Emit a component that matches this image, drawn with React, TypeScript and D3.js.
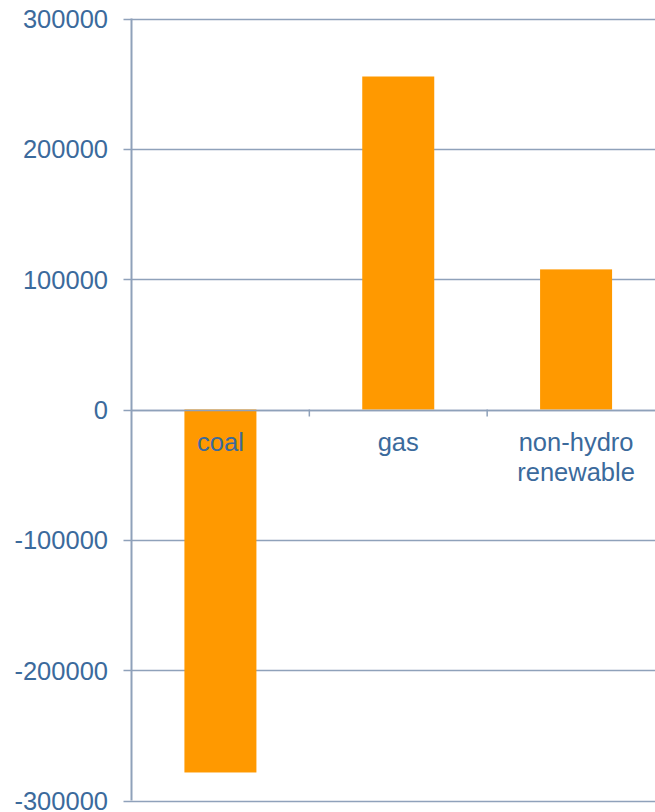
import React, { useRef, useEffect } from 'react';
import * as d3 from 'd3';

const categories = ['coal', 'gas', 'non-hydro renewable'];
const categoryLines = [['coal'], ['gas'], ['non-hydro', 'renewable']];
const values = [-278500, 255500, 107500];
const yTicks = [-300000, -200000, -100000, 0, 100000, 200000, 300000];

const App = () => {
  const svgRef = useRef<SVGSVGElement>(null);

  useEffect(() => {
    const svg = d3.select(svgRef.current);
    svg.selectAll('*').remove();

    const left = 131.5;
    const right = 665;
    const top = 18.5;
    const bottom = 800.5;

    const x = d3.scaleBand().domain(categories).range([left, right]).paddingInner(0).paddingOuter(0);
    const y = d3.scaleLinear().domain([-300000, 300000]).range([bottom, top]);

    const grid = '#8fa1ba';
    const textColor = '#3b6a9c';
    const font = 'Liberation Sans, Arial, sans-serif';

    // gridlines
    svg.append('g')
      .selectAll('line')
      .data(yTicks)
      .join('line')
      .attr('x1', left - 8)
      .attr('x2', 655)
      .attr('y1', d => Math.round(y(d)) + 0.5)
      .attr('y2', d => Math.round(y(d)) + 0.5)
      .attr('stroke', grid)
      .attr('stroke-width', 1.5);

    // bars
    const bw = 72;
    svg.append('g')
      .selectAll('rect')
      .data(values)
      .join('rect')
      .attr('x', (d, i) => x(categories[i])! + x.bandwidth() / 2 - bw / 2)
      .attr('width', bw)
      .attr('y', d => y(Math.max(0, d)))
      .attr('height', d => Math.abs(y(d) - y(0)))
      .attr('fill', '#ff9900');

    // zero axis redraw + category ticks
    svg.append('line')
      .attr('x1', left).attr('x2', 655)
      .attr('y1', Math.round(y(0)) + 0.5).attr('y2', Math.round(y(0)) + 0.5)
      .attr('stroke', grid).attr('stroke-width', 1.5);
    svg.append('g')
      .selectAll('line')
      .data(categories.slice(1))
      .join('line')
      .attr('x1', d => x(d)!)
      .attr('x2', d => x(d)!)
      .attr('y1', y(0))
      .attr('y2', y(0) + 7)
      .attr('stroke', grid)
      .attr('stroke-width', 1.5);

    // y axis line
    svg.append('line')
      .attr('x1', left).attr('x2', left)
      .attr('y1', top).attr('y2', bottom)
      .attr('stroke', grid).attr('stroke-width', 2);

    // y labels
    svg.append('g')
      .selectAll('text')
      .data(yTicks)
      .join('text')
      .attr('x', 108)
      .attr('y', d => y(d) + 9.5)
      .attr('text-anchor', 'end')
      .attr('font-family', font)
      .attr('font-size', 25.5)
      .attr('fill', textColor)
      .text(d => String(d));

    // category labels
    const labels = svg.append('g')
      .selectAll('text')
      .data(categoryLines)
      .join('text')
      .attr('x', (d, i) => x(categories[i])! + x.bandwidth() / 2)
      .attr('y', 451)
      .attr('text-anchor', 'middle')
      .attr('font-family', font)
      .attr('font-size', 25.5)
      .attr('fill', textColor);
    labels.each(function (d) {
      const t = d3.select(this);
      d.forEach((line, k) => {
        t.append('tspan')
          .attr('x', t.attr('x'))
          .attr('dy', k === 0 ? 0 : 30)
          .text(line);
      });
    });
  }, []);

  return (
    <svg ref={svgRef} width={655} height={812}
      style={{ position: 'absolute', left: 0, top: 0, background: '#fff' }} />
  );
};

export default App;
